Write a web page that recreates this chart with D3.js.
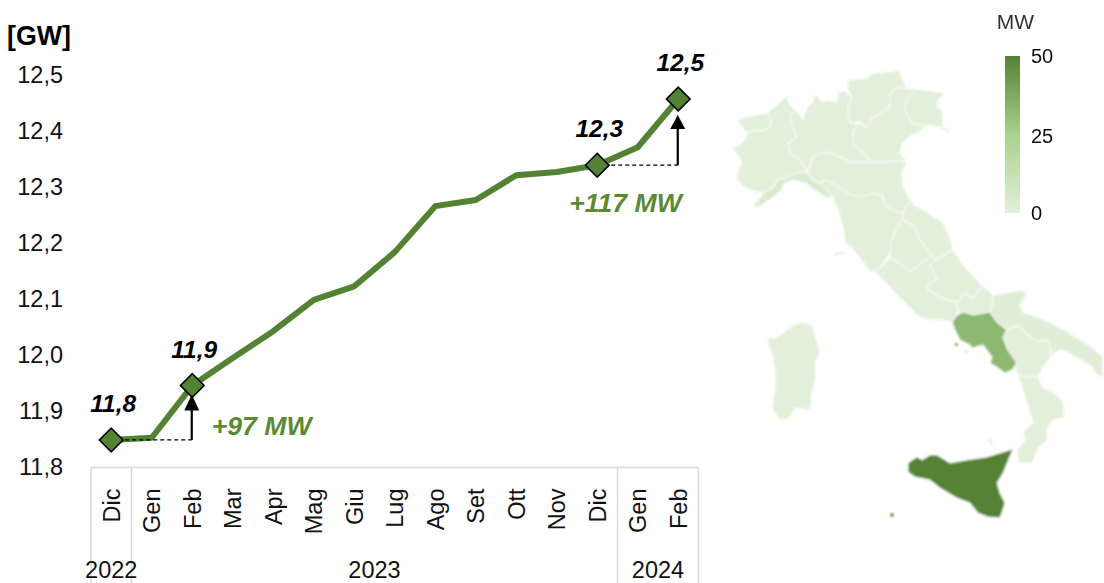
<!DOCTYPE html>
<html>
<head>
<meta charset="utf-8">
<script src="https://cdn.jsdelivr.net/npm/d3@7"></script>
<style>
html,body{margin:0;padding:0;background:#fff;overflow:hidden}
svg{display:block;font-family:"Liberation Sans",Arial,sans-serif}
</style>
</head>
<body>
<svg id="c" width="1104" height="583"></svg>
<script>
// ---------- chart data ----------
const months = ["Dic","Gen","Feb","Mar","Apr","Mag","Giu","Lug","Ago","Set","Ott","Nov","Dic","Gen","Feb"];
const monthKeys = months.map((m,i)=>i);
const capacityGW = [11.85,11.854,11.947,11.996,12.044,12.10,12.124,12.185,12.267,12.278,12.322,12.328,12.34,12.372,12.458];
const yTicks = [11.8,11.9,12.0,12.1,12.2,12.3,12.4,12.5];
const years = [{label:"2022",from:0,to:0},{label:"2023",from:1,to:12},{label:"2024",from:13,to:14}];
const highlighted = [{i:0,label:"11,8"},{i:2,label:"11,9"},{i:12,label:"12,3"},{i:14,label:"12,5"}];
const increments = [{from:0,to:2,label:"+97 MW"},{from:12,to:14,label:"+117 MW"}];
const legendTicks = [0,25,50];

// ---------- map data: outlines, in map units ----------
const regionMW = {"Valle d'Aosta":0,Piemonte:0,Liguria:4,Lombardia:0,Trentino:0,Veneto:0,Friuli:0,Emilia:0,Toscana:0,Umbria:0,Marche:0,Lazio:0,Abruzzo:0,Molise:0,Campania:33,Puglia:1,Basilicata:0,Calabria:0,Sicilia:50,Sardegna:0};
const outlines = {
"Valle d'Aosta":[[737,120],[745,117],[755,115],[767,113],[771,120],[770,127],[762,131],[753,130],[747,133],[742,127]],
Piemonte:[[747,133],[753,130],[762,131],[770,127],[771,120],[767,113],[773,108],[780,102],[787,95],[788,102],[795,110],[790,115],[792,125],[797,137],[788,143],[790,153],[800,160],[808,172],[798,173],[788,177],[777,180],[773,188],[763,193],[752,191],[742,185],[737,180],[738,170],[742,163],[738,155],[732,148],[740,145],[745,140]],
Liguria:[[754,205],[760,198],[763,193],[773,188],[777,180],[788,177],[798,173],[808,172],[812,180],[820,183],[825,188],[833,198],[825,197],[815,190],[805,183],[793,180],[785,183],[780,192],[772,198],[762,205],[755,208]],
Lombardia:[[795,110],[797,110],[803,120],[807,108],[813,102],[814,94],[818,97],[822,102],[828,100],[837,102],[838,92],[845,91],[852,97],[848,108],[850,123],[858,123],[853,133],[853,143],[860,150],[868,157],[872,162],[862,162],[850,162],[840,157],[830,153],[820,153],[813,157],[810,165],[808,172],[800,160],[790,153],[788,143],[797,137],[792,125],[790,115]],
Trentino:[[848,80],[867,78],[870,74],[885,72],[900,70],[902,78],[907,88],[895,88],[890,95],[890,107],[882,113],[873,117],[867,127],[860,122],[850,123],[848,108],[852,97],[847,88]],
Veneto:[[895,88],[907,88],[917,89],[908,98],[905,105],[907,115],[912,123],[925,125],[923,130],[912,135],[902,143],[900,153],[907,162],[895,161],[883,162],[872,162],[868,157],[860,150],[853,143],[853,133],[858,123],[867,127],[873,117],[882,113],[890,107],[890,95]],
Friuli:[[917,89],[925,90],[945,93],[938,100],[937,107],[942,110],[943,120],[942,125],[950,132],[948,133],[940,127],[925,125],[912,123],[907,115],[905,105],[908,98]],
Emilia:[[808,172],[810,165],[813,157],[820,153],[830,153],[840,157],[850,162],[862,162],[872,162],[883,162],[895,161],[907,162],[902,172],[903,185],[908,197],[917,207],[910,205],[905,210],[902,213],[892,210],[885,205],[882,195],[872,193],[862,197],[852,195],[840,188],[832,182],[825,180],[820,183],[812,180]],
Toscana:[[825,188],[820,183],[825,180],[832,182],[840,188],[852,195],[862,197],[872,193],[882,195],[885,205],[892,210],[903,213],[902,220],[895,232],[892,240],[890,253],[880,268],[870,272],[863,262],[852,248],[845,242],[843,227],[838,210],[833,198]],
Umbria:[[902,220],[913,225],[920,240],[932,255],[910,272],[898,262],[890,258],[890,253],[892,240],[895,232]],
Marche:[[903,213],[908,203],[918,207],[943,222],[950,237],[953,250],[935,260],[932,255],[920,240],[913,225],[902,220]],
Lazio:[[870,272],[880,268],[890,258],[898,262],[910,272],[932,255],[935,260],[930,265],[937,280],[927,285],[928,290],[942,298],[957,302],[958,312],[952,322],[940,320],[927,320],[917,315],[902,300],[888,285],[877,273]],
Abruzzo:[[953,250],[963,265],[982,285],[973,298],[965,293],[957,302],[942,298],[928,290],[927,285],[937,280],[930,265],[935,260]],
Molise:[[982,285],[993,295],[993,303],[990,312],[973,315],[963,312],[958,312],[957,302],[965,293],[973,298]],
Campania:[[952,322],[957,315],[963,312],[973,315],[990,312],[997,322],[1007,330],[1003,337],[1008,350],[1017,363],[1012,370],[1005,373],[998,368],[990,363],[992,357],[983,345],[972,348],[970,345],[960,340],[955,330]],
Puglia:[[993,295],[1023,290],[1027,294],[1020,305],[1023,312],[1040,318],[1065,330],[1080,340],[1092,347],[1103,358],[1103,377],[1097,375],[1090,365],[1077,358],[1067,352],[1060,350],[1052,355],[1047,340],[1037,342],[1025,333],[1018,325],[1007,330],[997,322],[990,312],[993,303]],
Basilicata:[[1007,330],[1018,325],[1025,333],[1037,342],[1047,340],[1052,355],[1043,367],[1038,377],[1028,377],[1018,375],[1015,368],[1017,363],[1008,350],[1003,337]],
Calabria:[[1018,375],[1028,377],[1038,377],[1042,387],[1055,393],[1063,402],[1065,417],[1053,420],[1047,428],[1047,440],[1038,448],[1032,463],[1018,463],[1017,450],[1025,440],[1023,432],[1033,423],[1028,407],[1023,390]],
Sicilia:[[908,463],[917,457],[922,460],[930,455],[937,455],[950,463],[967,460],[987,457],[1013,449],[1003,473],[997,483],[1000,493],[1005,503],[1000,518],[988,517],[978,513],[970,503],[957,498],[940,488],[930,480],[915,477],[908,472]],
Sardegna:[[768,337],[775,338],[783,333],[793,325],[803,322],[812,325],[815,335],[820,352],[815,363],[816,377],[812,393],[810,410],[795,408],[790,418],[780,420],[772,408],[775,390],[775,373],[773,357],[768,345]]
};
const islands = [
 {region:"Sicilia",ring:[[890,514],[893,513],[894,516],[891,517]]},
 {region:"Campania",ring:[[955,343],[958,343],[958,346],[955,346]]},
 {region:"Campania",ring:[[965,351],[967,351],[967,352],[965,352]]},
 {region:"Toscana",ring:[[834,254],[843,251],[844,253],[836,256]]},
 {region:"Toscana",ring:[[989,437],[991,440],[993,445],[991,445],[988,440]]}
];

// ---------- drawing ----------
const svg = d3.select("#c");
const FONT_TICK = 23.5;
const FONT_VALUE = 24.5;
const FONT_DELTA = 26.6;

const x = d3.scaleBand().domain(monthKeys).range([91,698.5]);
const y = d3.scaleLinear().domain([11.8,12.5]).range([468,75.5]);
const cx = i => x(i)+x.bandwidth()/2;
const comma = d3.format(".1f");
const axisY = y(11.8)-0.5;

// axis frame
const frame = svg.append("g").attr("stroke","#d9d9d9").attr("stroke-width",1.5);
frame.append("line").attr("x1",x.range()[0]).attr("x2",x.range()[1]).attr("y1",axisY).attr("y2",axisY);
const seps = [...new Set(years.flatMap(v=>[x(v.from),x(v.to)+x.bandwidth()]))];
frame.selectAll("line.s").data(seps).join("line").attr("class","s")
  .attr("x1",d=>d).attr("x2",d=>d).attr("y1",axisY).attr("y2",583);

// y axis
const yAxis = d3.axisLeft(y).tickValues(yTicks).tickSize(0).tickPadding(0)
  .tickFormat(d=>comma(d).replace(".",","));
const ga = svg.append("g").attr("transform","translate(63,-1)").call(yAxis);
ga.select(".domain").remove();
ga.selectAll("text").attr("font-size",FONT_TICK).attr("font-family","Liberation Sans").attr("fill","#111");

svg.append("text").attr("x",7).attr("y",45).attr("font-size",26.8).attr("font-weight","bold").attr("fill","#000").text("[GW]");

// month labels
svg.append("g").selectAll("text").data(months).join("text")
  .attr("transform",(d,i)=>`translate(${cx(i)+8.5},488.5) rotate(-90)`)
  .attr("text-anchor","end").attr("font-size",FONT_TICK).attr("fill","#111").text(d=>d);
// year labels
svg.append("g").selectAll("text").data(years).join("text")
  .attr("x",d=>(x(d.from)+x(d.to)+x.bandwidth())/2).attr("y",578).attr("text-anchor","middle")
  .attr("font-size",FONT_TICK).attr("fill","#111").text(d=>d.label);

// line
const line = d3.line().x((d,i)=>cx(i)).y(d=>y(d));
svg.append("path").datum(capacityGW).attr("d",line).attr("fill","none")
  .attr("stroke","#548235").attr("stroke-width",6).attr("stroke-linejoin","round");

// increments: dashed base and arrow
const arrowOffsets = [[9,25],[16,30]];
increments.forEach((inc,n)=>{
  const xa=cx(inc.to)-0.5, y0=y(capacityGW[inc.from]), y1=y(capacityGW[inc.to]);
  svg.append("line").attr("x1",cx(inc.from)).attr("x2",xa).attr("y1",y0).attr("y2",y0)
    .attr("stroke","#000").attr("stroke-width",1.2).attr("stroke-dasharray","4 3");
  const tip=y1+arrowOffsets[n][0], base=y1+arrowOffsets[n][1];
  svg.append("line").attr("x1",xa).attr("x2",xa).attr("y1",y0).attr("y2",base-1)
    .attr("stroke","#000").attr("stroke-width",2.2);
  svg.append("path").attr("d",d3.line()([[xa,tip],[xa+7.5,base],[xa-7.5,base]])+"Z").attr("fill","#000");
});

// markers
svg.append("g").selectAll("path").data(highlighted).join("path")
  .attr("d",d3.symbol(d3.symbolSquare,280)())
  .attr("transform",d=>`translate(${cx(d.i)},${y(capacityGW[d.i])}) rotate(45)`)
  .attr("fill","#548235").attr("stroke","#000").attr("stroke-width",1.6);

// value labels
svg.append("g").selectAll("text").data(highlighted).join("text")
  .attr("x",d=>cx(d.i)+2).attr("y",d=>y(capacityGW[d.i])-28)
  .attr("text-anchor","middle").attr("font-size",FONT_VALUE).attr("font-weight","bold").attr("font-style","italic")
  .attr("fill","#000").text(d=>d.label);

// increment labels
svg.append("text").attr("x",cx(increments[0].to)+19.5).attr("y",y(capacityGW[increments[0].from])-5)
  .attr("font-size",FONT_DELTA).attr("font-weight","bold").attr("font-style","italic").attr("fill","#5b8a32").text(increments[0].label);
svg.append("text").attr("x",cx(increments[1].to)+3.5).attr("y",y(capacityGW[increments[1].from])+47).attr("text-anchor","end")
  .attr("font-size",FONT_DELTA).attr("font-weight","bold").attr("font-style","italic").attr("fill","#5b8a32").text(increments[1].label);

// map
const color = d3.scaleLinear().domain([0,25,50]).range(["#e2efda","#a9d18e","#548235"]);
const defs = svg.append("defs");
defs.append("filter").attr("id","soft").attr("x","-5%").attr("y","-5%").attr("width","110%").attr("height","110%")
  .append("feGaussianBlur").attr("stdDeviation",0.8);
defs.append("filter").attr("id","softer").attr("x","-10%").attr("y","-10%").attr("width","120%").attr("height","120%")
  .append("feGaussianBlur").attr("stdDeviation",0.4);
const geo = d3.geoPath(d3.geoIdentity());
const closeRing = r => [...r, r[0]];
const map = svg.append("g").attr("filter","url(#soft)");
map.selectAll("path.r").data(Object.keys(outlines)).join("path").attr("class","r")
  .attr("d",k=>geo({type:"Polygon",coordinates:[closeRing(outlines[k])]}))
  .attr("fill",k=>color(regionMW[k])).attr("stroke","#fff").attr("stroke-width",0.9).attr("stroke-linejoin","round");
map.selectAll("path.i").data(islands).join("path").attr("class","i")
  .attr("d",d=>geo({type:"Polygon",coordinates:[closeRing(d.ring)]}))
  .attr("fill",d=>color(regionMW[d.region]));

// legend
const lg = defs.append("linearGradient").attr("id","lg").attr("x1",0).attr("x2",0).attr("y1",1).attr("y2",0);
legendTicks.forEach(t=>lg.append("stop").attr("offset",t/50).attr("stop-color",color(t)));
const ly = d3.scaleLinear().domain([0,25,50]).range([213,136,56]);
const lgG = svg.append("g").attr("filter","url(#softer)");
lgG.append("rect").attr("x",1005).attr("width",15).attr("y",ly(50)).attr("height",ly(0)-ly(50)).attr("fill","url(#lg)");
lgG.selectAll("text.t").data(legendTicks).join("text").attr("class","t")
  .attr("x",1031).attr("y",d=>ly(d)).attr("dy","0.36em").attr("font-size",20).attr("fill","#111").text(d=>d);
lgG.append("text").attr("x",1015.5).attr("y",29).attr("text-anchor","middle").attr("font-size",21).attr("fill","#333").text("MW");
</script>
</body>
</html>
